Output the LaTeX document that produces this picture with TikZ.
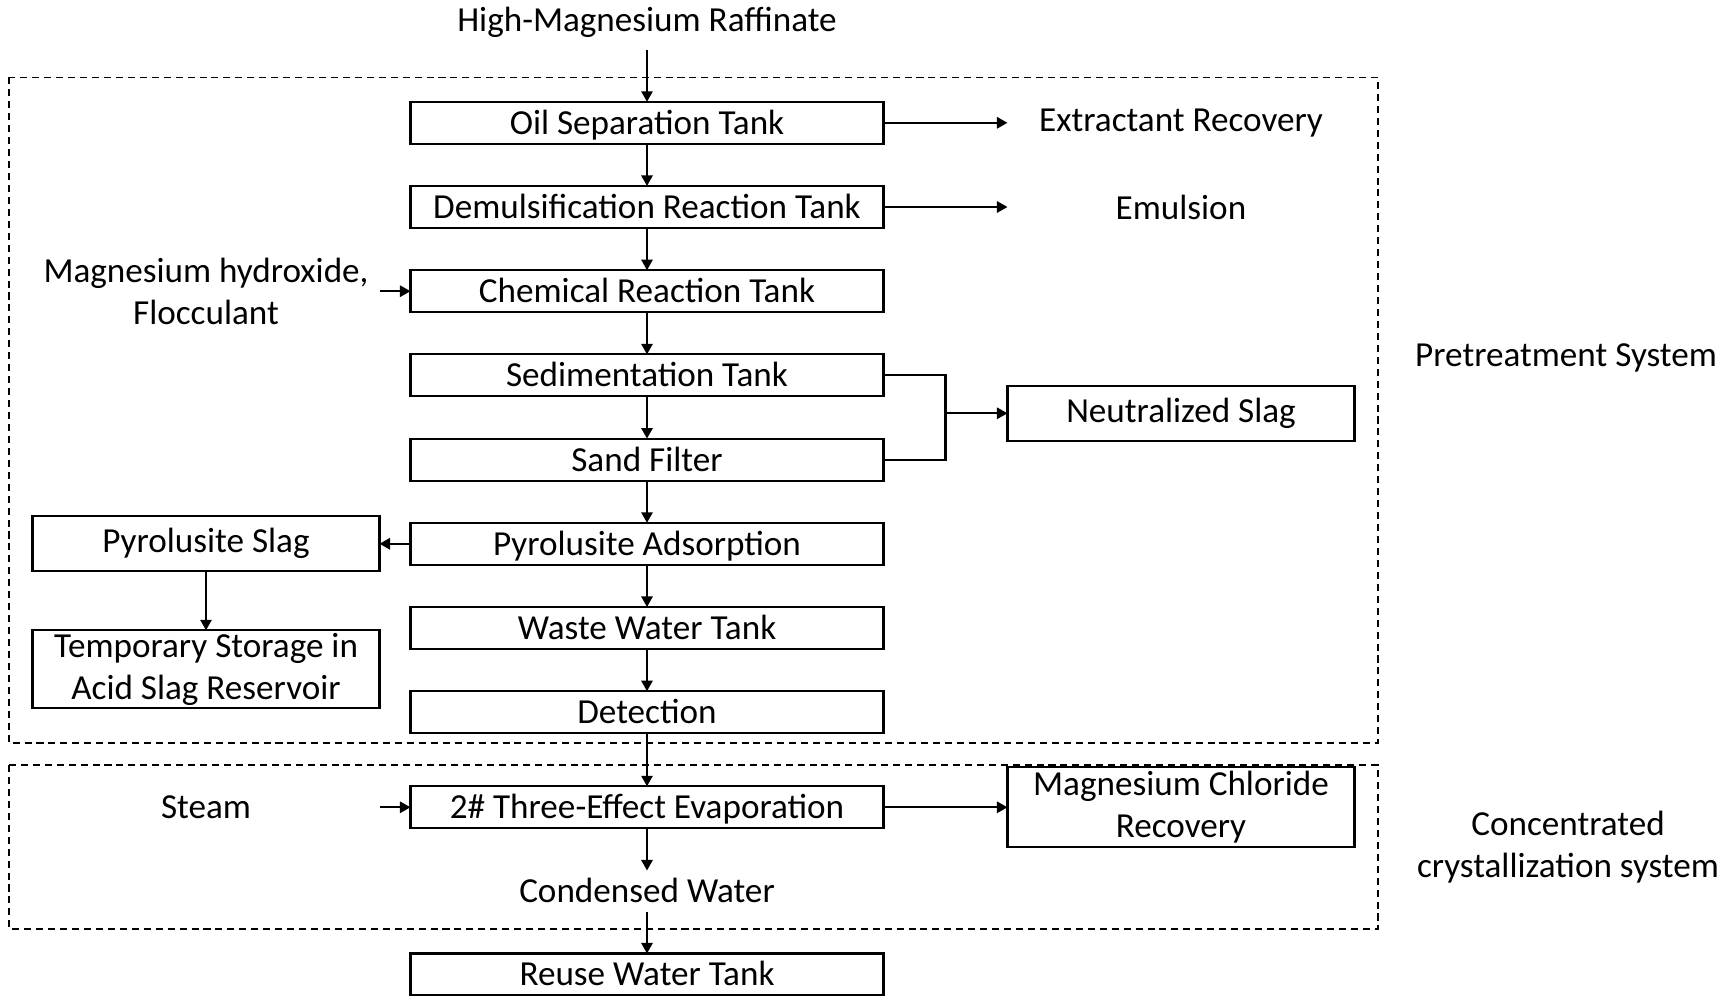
\documentclass[tikz,border=0pt]{standalone}
\usepackage{fontspec}
\setmainfont{Carlito}
\usepackage{tikz}
\usetikzlibrary{arrows.meta,positioning,calc}

\begin{document}
\begin{tikzpicture}[node distance=0.422cm and 1.24cm, font=\fontsize{10}{12}\selectfont, proc/.style={draw,semithick,minimum width=4.73cm,minimum height=0.42cm,text height=8pt,text depth=1.5pt,inner sep=0pt,outer sep=0pt,align=center}, side/.style={minimum width=3.47cm,minimum height=0.55cm,inner sep=0pt,outer sep=0pt,align=center}, sidebox/.style={side,draw,semithick}, arr/.style={-{Triangle[length=3pt,width=3.2pt]},semithick}, frame/.style={thin,dash pattern=on 2pt off 1.4pt}]
\useasboundingbox (0,0) rectangle (17.34,-9.96);
\draw[frame] (0.09,-0.774) rectangle (13.78,-7.43);
\draw[frame] (0.09,-7.65) rectangle (13.78,-9.29);
\node (raff) at (6.47,-0.22) {High-Magnesium Raffinate};
\node[proc] (oil) at (6.47,-1.228) {Oil Separation Tank};
\node[proc,below=of oil] (demul) {Demulsification Reaction Tank};
\node[proc,below=of demul] (chem) {Chemical Reaction Tank};
\node[proc,below=of chem] (sed) {Sedimentation Tank};
\node[proc,below=of sed] (sand) {Sand Filter};
\node[proc,below=of sand] (pyro) {Pyrolusite Adsorption};
\node[proc,below=of pyro] (waste) {Waste Water Tank};
\node[proc,below=of waste] (det) {Detection};
\node[proc,below=0.531cm of det] (evap) {2\# Three-Effect Evaporation};
\node[proc,draw=none,below=of evap] (cond) {Condensed Water};
\node[proc,below=0.41cm of cond] (reuse) {Reuse Water Tank};
\node[side,right=of oil] (extr) {Extractant Recovery};
\node[side,right=of demul] (emul) {Emulsion};
\node[sidebox,anchor=west] (nslag) at ($(sed.east)!0.45!(sand.east)+(1.24,0)$) {Neutralized Slag};
\coordinate[left=0.62cm of nslag.west] (jn);
\node[sidebox,minimum height=0.8cm,right=of evap] (mgcl) {Magnesium Chloride\\Recovery};
\node[side,left=0.31cm of chem] (mgoh) {Magnesium hydroxide,\\Flocculant};
\node[sidebox,left=0.31cm of pyro] (pslag) {Pyrolusite Slag};
\node[sidebox,minimum height=0.78cm,below=0.59cm of pslag] (temp) {Temporary Storage in\\Acid Slag Reservoir};
\node[side,left=0.31cm of evap] (steam) {Steam};
\node (pre) at (15.66,-3.58) {Pretreatment System};
\node[align=center] (conc) at (15.68,-8.47) {Concentrated\\crystallization system};
\draw[arr] (raff) -- (oil);
\draw[arr] (oil) -- (demul);
\draw[arr] (demul) -- (chem);
\draw[arr] (chem) -- (sed);
\draw[arr] (sed) -- (sand);
\draw[arr] (sand) -- (pyro);
\draw[arr] (pyro) -- (waste);
\draw[arr] (waste) -- (det);
\draw[arr] (det) -- (evap);
\draw[arr] (evap) -- (cond);
\draw[arr] (cond) -- (reuse);
\draw[arr] (oil) -- (extr);
\draw[arr] (demul) -- (emul);
\draw[semithick] (sed.east) -| (jn) |- (sand.east);
\draw[arr] (jn) -- (nslag);
\draw[arr] (evap) -- (mgcl);
\draw[arr] (mgoh) -- (chem);
\draw[arr] (pyro) -- (pslag);
\draw[arr] (pslag) -- (temp);
\draw[arr] (steam) -- (evap);
\end{tikzpicture}
\end{document}
